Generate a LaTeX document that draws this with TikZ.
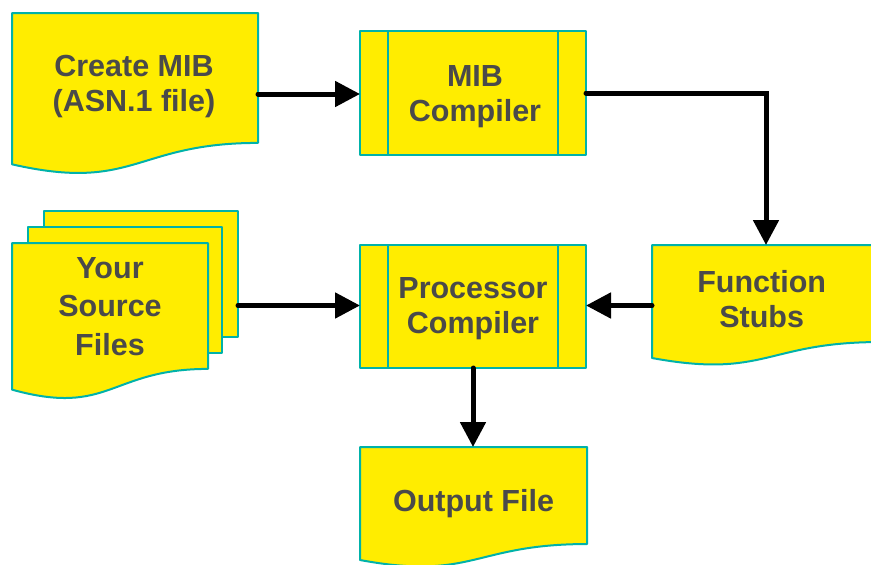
\documentclass[tikz,border=0pt]{standalone}
\usepackage{fontspec}
\setmainfont{Liberation Sans}
\usetikzlibrary{arrows.meta,calc,backgrounds}
\definecolor{boxyellow}{RGB}{255,237,0}
\definecolor{boxteal}{RGB}{0,178,169}
\definecolor{textgray}{RGB}{74,74,74}
\tikzset{
	sheet/.style = {fill=boxyellow, draw=boxteal, line width=2pt, line join=round},
	rule/.style = {draw=boxteal, line width=2pt},
	box/.style = {inner sep=0pt, outer sep=0pt},
	boxlabel/.style = {text=textgray, font=\bfseries\fontsize{30.5}{35}\selectfont, align=center, inner sep=0pt},
	flow/.style = {line width=5pt, line cap=round, -{Triangle[length=25pt,width=25pt]}}
}
\newcommand{\docshape}[1]{%
	\path [sheet] (#1.north west) -- (#1.north east) -- ($(#1.north east)!.802!(#1.south east)$)
		.. controls ($(#1.north)!.802!(#1.south)$) and ($(#1.north)!1.1075!(#1.south)$) .. ($(#1.north west)!.934!(#1.south west)$) -- cycle;}
\newcommand{\procshape}[1]{%
	\path [sheet] (#1.north west) rectangle (#1.south east);
	\draw [rule] ($(#1.north west)!.125!(#1.north east)$) -- ($(#1.south west)!.125!(#1.south east)$);
	\draw [rule] ($(#1.north east)!.125!(#1.north west)$) -- ($(#1.south east)!.125!(#1.south west)$);}
\begin{document}
\begin{tikzpicture}[x = 1pt, y = -1pt]
		\useasboundingbox (0,0) rectangle (871,565);
		
		\node (mib) at (135,94) [box, minimum width=246pt, minimum height=162pt] {};
		\node (mibc) at (473,93) [box, minimum width=226pt, minimum height=124pt] {};
		\node (srcback) at (141,274) [box, minimum width=194pt, minimum height=126pt] {};
		\node (srcmid) at (125,290) [box, minimum width=194pt, minimum height=126pt] {};
		\node (src) at (110,321.5) [box, minimum width=196pt, minimum height=157pt] {};
		\node (procc) at (473,306.5) [box, minimum width=226pt, minimum height=123pt] {};
		\node (stubs) at (766,305.5) [box, minimum width=228pt, minimum height=121pt] {};
		\node (out) at (473.5,507.5) [box, minimum width=227pt, minimum height=121pt] {};
		
		\begin{scope}[on background layer]
		\docshape{mib}
		\procshape{mibc}
		\path [sheet] (srcback.north west) rectangle (srcback.south east);
		\path [sheet] (srcmid.north west) rectangle (srcmid.south east);
		\docshape{src}
		\procshape{procc}
		\docshape{stubs}
		\docshape{out}
		\end{scope}
		
		\node (mibtext) at ([xshift=-1pt, yshift=7.4pt]mib.center) [boxlabel] {Create MIB\\(ASN.1 file)};
		\node (mibctext) at ([xshift=2pt, yshift=-3.5pt]mibc.center) [boxlabel] {MIB\\Compiler};
		\node (srctext) at ([yshift=15.3pt]src.center) [boxlabel, font=\bfseries\fontsize{30.5}{38.5}\selectfont] {Your\\Source\\Files};
		\node (procctext) at ([yshift=-1.7pt]procc.center) [boxlabel] {Processor\\Compiler};
		\node (stubstext) at ([xshift=-4.3pt, yshift=6.8pt]stubs.center) [boxlabel] {Function\\Stubs};
		\node (outtext) at ([yshift=3.5pt]out.center) [boxlabel] {Output File};
		
		\draw [flow] (mib.east) -- (mib.east -| mibc.west);
		\draw [flow] (mibc.east) -| (stubs.north);
		\draw [flow] (stubs.west) -- (stubs.west -| procc.east);
		\draw [flow] (srcback.east |- stubs.west) -- (stubs.west -| procc.west);
		\draw [flow] (procc.south) -- (procc.south |- out.north);
		\end{tikzpicture}
\end{document}
